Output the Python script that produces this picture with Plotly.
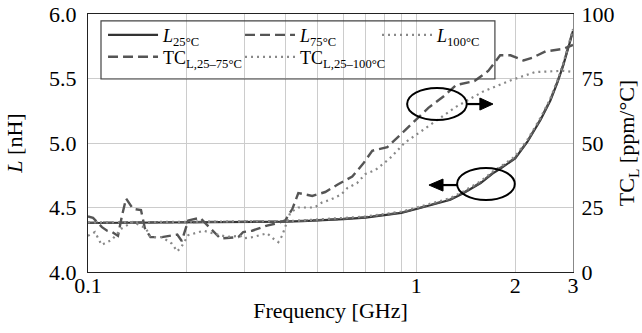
import plotly.graph_objects as go

# ---------------- data ----------------
freq_L = [0.10, 0.12, 0.15, 0.2, 0.25, 0.3, 0.35, 0.4, 0.45, 0.5, 0.6, 0.7, 0.78, 0.9, 1.0,
          1.1, 1.27, 1.39, 1.57, 1.71, 1.8, 2.0, 2.18, 2.39, 2.56, 2.69, 2.8, 2.95, 3.0]
L_25 = [4.380, 4.381, 4.382, 4.383, 4.384, 4.386, 4.388, 4.390, 4.395, 4.400, 4.410, 4.422, 4.437,
        4.458, 4.488, 4.515, 4.560, 4.610, 4.690, 4.765, 4.800, 4.880, 5.010, 5.180, 5.330, 5.470,
        5.600, 5.800, 5.870]
L_75 = [4.382, 4.383, 4.384, 4.385, 4.386, 4.388, 4.390, 4.392, 4.397, 4.402, 4.412, 4.425, 4.440,
        4.461, 4.491, 4.519, 4.564, 4.614, 4.694, 4.769, 4.805, 4.885, 5.015, 5.186, 5.336, 5.476,
        5.606, 5.806, 5.876]
L_100 = [4.384, 4.385, 4.386, 4.387, 4.388, 4.390, 4.392, 4.395, 4.400, 4.406, 4.417, 4.430, 4.446,
         4.468, 4.499, 4.527, 4.573, 4.624, 4.704, 4.779, 4.815, 4.896, 5.026, 5.196, 5.346, 5.486,
         5.616, 5.815, 5.884]

freq_TC75 = [0.100, 0.1036, 0.1103, 0.1143, 0.1184, 0.1234, 0.127, 0.1306, 0.137, 0.145, 0.149,
             0.155, 0.168, 0.178, 0.187, 0.193, 0.202, 0.2195, 0.240, 0.253, 0.287, 0.297, 0.316,
             0.351, 0.380, 0.399, 0.419, 0.437, 0.482, 0.528, 0.578, 0.638, 0.689, 0.734, 0.816,
             0.887, 1.088, 1.209, 1.324, 1.503, 1.658, 1.80, 1.935, 2.12, 2.25, 2.474, 2.806, 3.0]
TC_25_75 = [21.5, 21.0, 17.4, 16.0, 15.5, 14.0, 22.0, 28.5, 24.5, 24.0, 17.0, 13.5, 13.5, 14.0,
            14.5, 12.0, 20.0, 21.0, 16.0, 13.0, 13.5, 15.5, 16.0, 18.0, 19.0, 20.0, 24.4, 30.6,
            29.5, 31.0, 34.0, 37.0, 42.0, 47.0, 48.4, 52.7, 63.6, 68.0, 72.5, 74.0, 78.0, 84.0,
            84.0, 82.0, 83.0, 85.5, 86.5, 88.0]

freq_TC100 = [0.100, 0.105, 0.110, 0.118, 0.127, 0.137, 0.150, 0.155, 0.168, 0.180, 0.187, 0.193,
              0.202, 0.225, 0.240, 0.265, 0.291, 0.297, 0.316, 0.334, 0.351, 0.366, 0.380, 0.390,
              0.399, 0.413, 0.437, 0.49, 0.517, 0.547, 0.59, 0.616, 0.66, 0.70, 0.75, 0.83, 0.92,
              1.1, 1.32, 1.6, 1.95, 2.3, 2.8, 3.0]
TC_25_100 = [14.0, 15.5, 10.5, 12.4, 17.0, 19.4, 17.0, 13.5, 13.5, 11.0, 8.0, 10.0, 14.3, 16.0,
             15.0, 13.6, 14.0, 13.0, 13.5, 14.3, 15.0, 13.0, 11.6, 14.0, 17.4, 23.0, 25.0, 25.0,
             27.0, 28.0, 30.0, 32.5, 34.5, 38.0, 39.5, 44.0, 50.0, 57.0, 64.0, 70.0, 74.4, 77.5,
             78.0, 77.5]

x_tickvals = [0.1, 1, 2, 3]
x_ticktext = ["0.1", "1", "2", "3"]
x_minor_grid = [0.2, 0.3, 0.4, 0.5, 0.6, 0.7, 0.8, 0.9]
y_tickvals = [4.0, 4.5, 5.0, 5.5, 6.0]
y_ticktext = ["4.0", "4.5", "5.0", "5.5", "6.0"]
y2_tickvals = [0, 25, 50, 75, 100]
y2_ticktext = ["0", "25", "50", "75", "100"]

names = ["<i>L</i><sub>25°C</sub>", "<i>L</i><sub>75°C</sub>", "<i>L</i><sub>100°C</sub>",
         "TC<sub>L,25–75°C</sub>", "TC<sub>L,25–100°C</sub>"]

FONT = "Liberation Serif, Times New Roman, DejaVu Serif, serif"
AX_FONT = dict(family=FONT, size=22, color="black")
DASH = "10px,5px"
DOT = "2px,4px"

fig = go.Figure()
fig.add_trace(go.Scatter(x=freq_L, y=L_25, mode="lines", name=names[0], legend="legend",
                         line=dict(color="#333333", width=2.2)))
fig.add_trace(go.Scatter(x=freq_L, y=L_75, mode="lines", name=names[1], legend="legend",
                         line=dict(color="#555555", width=2.2, dash=DASH)))
fig.add_trace(go.Scatter(x=freq_L, y=L_100, mode="lines", name=names[2], legend="legend",
                         legendwidth=110, line=dict(color="#888888", width=2.2, dash=DOT)))
fig.add_trace(go.Scatter(x=freq_TC75, y=TC_25_75, mode="lines", name=names[3], yaxis="y2",
                         legend="legend2", line=dict(color="#555555", width=2.4, dash=DASH)))
fig.add_trace(go.Scatter(x=freq_TC100, y=TC_25_100, mode="lines", name=names[4], yaxis="y2",
                         legend="legend2", legendwidth=130,
                         line=dict(color="#888888", width=2.2, dash=DOT)))

leg_common = dict(orientation="h", xanchor="left", yanchor="middle",
                  bgcolor="rgba(0,0,0,0)", borderwidth=0,
                  font=dict(family=FONT, size=18, color="black"), entrywidth=72, itemwidth=50,
                  traceorder="normal")

fig.update_layout(
    width=642, height=333, autosize=False,
    margin=dict(l=88, r=69, t=14, b=61),
    paper_bgcolor="white", plot_bgcolor="white",
    font=AX_FONT,
    xaxis=dict(type="log", range=[-1, 0.47712], tickvals=x_tickvals, ticktext=x_ticktext,
               tickfont=AX_FONT, automargin=False,
               showgrid=True, gridcolor="#cccccc", gridwidth=1, zeroline=False,
               minor=dict(tickvals=x_minor_grid, showgrid=True, gridcolor="#cccccc",
                          gridwidth=1, ticks=""),
               showline=True, linecolor="#222222", linewidth=1.2, mirror=True, ticks="",
               ticklabelstandoff=-7,
               title=dict(text="Frequency [GHz]", standoff=6, font=AX_FONT)),
    yaxis=dict(range=[4, 6], tickvals=y_tickvals, ticktext=y_ticktext,
               tickfont=AX_FONT, automargin=False,
               showgrid=True, gridcolor="#cccccc", gridwidth=1, zeroline=False,
               showline=True, linecolor="#222222", linewidth=1.2, ticks="",
               ticklabelstandoff=6,
               title=dict(text="<i>L</i> [nH]", standoff=20, font=AX_FONT)),
    yaxis2=dict(range=[0, 100], tickvals=y2_tickvals, ticktext=y2_ticktext, overlaying="y",
                tickfont=AX_FONT, automargin=False,
                side="right", showgrid=False, zeroline=False, showline=True,
                linecolor="#888888", linewidth=1.2, ticks="", ticklabelstandoff=3,
                title=dict(text="TC<sub>L</sub> [ppm/°C]", standoff=18, font=AX_FONT)),
    legend=dict(x=0.031, y=0.918, **leg_common),
    legend2=dict(x=0.031, y=0.833, **leg_common),
    showlegend=True,
)

# legend frame
fig.add_shape(type="rect", xref="paper", yref="paper", x0=0.0268, x1=0.839, y0=0.748, y1=0.973,
              line=dict(color="#444444", width=1.2), fillcolor="rgba(0,0,0,0)")

# decorative ellipses and arrows (paper coordinates)
fig.add_shape(type="circle", xref="paper", yref="paper", x0=0.658, x1=0.781, y0=0.589, y1=0.713,
              line=dict(color="black", width=2))
fig.add_shape(type="circle", xref="paper", yref="paper", x0=0.761, x1=0.880, y0=0.279, y1=0.403,
              line=dict(color="black", width=2))
# right-pointing arrow (towards TC axis)
fig.add_shape(type="line", xref="paper", yref="paper", x0=0.781, x1=0.810, y0=0.651, y1=0.651,
              line=dict(color="black", width=2.2))
fig.add_shape(type="path", xref="paper", yref="paper",
              path="M0.808,0.6743 L0.835,0.651 L0.808,0.6277 Z",
              fillcolor="black", line=dict(color="black", width=1))
# left-pointing arrow (towards L axis)
fig.add_shape(type="line", xref="paper", yref="paper", x0=0.761, x1=0.730, y0=0.337, y1=0.337,
              line=dict(color="black", width=2.2))
fig.add_shape(type="path", xref="paper", yref="paper",
              path="M0.732,0.3603 L0.703,0.337 L0.732,0.3137 Z",
              fillcolor="black", line=dict(color="black", width=1))

fig.write_html("out.html")
